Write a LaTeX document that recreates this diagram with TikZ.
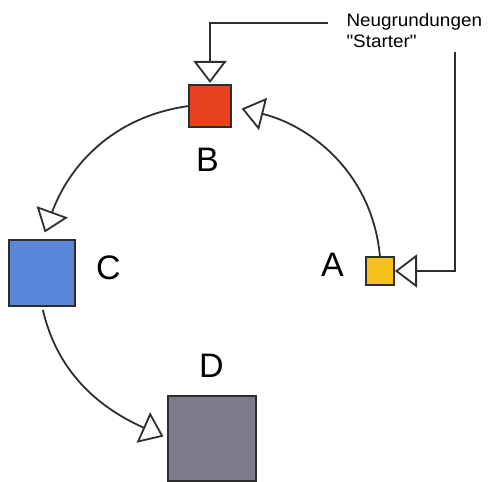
\documentclass[tikz,border=0pt]{standalone}
\usepackage{fontspec}
\setmainfont{Liberation Sans}
\usetikzlibrary{arrows.meta}
\definecolor{bred}{HTML}{E8421E}
\definecolor{ayel}{HTML}{F5C21C}
\definecolor{cblue}{HTML}{5A87DA}
\definecolor{dgray}{HTML}{7B7B8C}
\definecolor{ink}{HTML}{2E2E2E}
\tikzset{
  box/.style={draw=ink, line width=2pt, inner sep=0pt, outer sep=0pt},
  lbl/.style={font=\fontsize{34}{34}\selectfont, anchor=base, inner sep=0pt},
  conn/.style={draw=ink, line width=1.8pt, -{Triangle[open, length=22pt, width=33pt, line width=1.8pt]}},
}
\begin{document}
\begin{tikzpicture}[x=1pt,y=1pt]
\useasboundingbox (0,0) rectangle (491,482);
% boxes
\node[box, fill=bred, minimum width=42pt, minimum height=42pt] (B) at (210,376) {};
\node[box, fill=ayel, minimum width=28pt, minimum height=28pt] (A) at (380,211) {};
\node[box, fill=cblue, minimum width=66pt, minimum height=66pt] (C) at (42,209) {};
\node[box, fill=dgray, minimum width=88pt, minimum height=85pt] (D) at (212,43.5) {};
% labels
\node[lbl] (lB) at (207.5,310) {B};
\node[lbl] (lA) at (332.5,205) {A};
\node[lbl] (lC) at (108.5,202) {C};
\node[lbl] (lD) at (211.5,104) {D};
% text
\node[anchor=base west, inner sep=0pt] (txt) at (346.3,455.3)
  {\scalebox{1.05}[1]{\fontsize{18}{20.5}\selectfont\begin{tabular}[t]{@{}l@{}}Neugrundungen\\\textquotedbl Starter\textquotedbl\end{tabular}}};
% feeder connectors
\coordinate (t1) at (328,459);
\coordinate (t2) at (210,459);
\coordinate (r1) at (455,430);
\coordinate (r2) at (455,211);
\draw[conn, shorten >=2pt] (t1) -- (t2) -- (B.north);
\draw[conn, shorten >=1pt] (r1) -- (r2) -- (A.east);
% cycle arcs
\draw[conn, shorten >=11pt] (A.north) to[out=95, in=-14] (B.east);
\draw[conn, shorten <=1pt, shorten >=8pt] (B.west) to[out=188, in=70] (C.north);
\draw[conn, shorten <=4pt, shorten >=5pt] (C.south) to[out=-77, in=156] (D.west);
\end{tikzpicture}
\end{document}
